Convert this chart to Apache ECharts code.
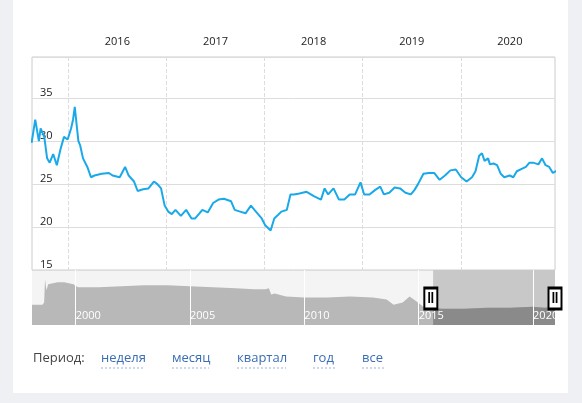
<!DOCTYPE html>
<html><head><meta charset="utf-8">
<script src="https://cdn.jsdelivr.net/npm/echarts@6/dist/echarts.min.js"></script>
<style>
html,body{margin:0;padding:0;background:#eef0f4;width:582px;height:403px;overflow:hidden}
#card{position:absolute;left:13px;top:0;width:555px;height:393px;background:#fff}
#c{position:absolute;left:0;top:0;width:582px;height:403px}
</style></head><body>
<div id="card"></div><div id="c"></div>
<script>
// main chart: time as fractional year, price values
const mainYears = [2015.626,2015.663,2015.700,2015.718,2015.755,2015.784,2015.810,2015.846,2015.883,2015.919,2015.956,2015.993,2016.029,2016.048,2016.066,2016.084,2016.103,2016.121,2016.150,2016.194,2016.231,2016.267,2016.341,2016.414,2016.451,2016.524,2016.579,2016.615,2016.670,2016.707,2016.762,2016.817,2016.872,2016.908,2016.945,2016.982,2017.018,2017.055,2017.092,2017.147,2017.201,2017.256,2017.293,2017.330,2017.366,2017.421,2017.476,2017.531,2017.586,2017.659,2017.696,2017.751,2017.806,2017.861,2017.897,2017.934,2017.971,2018.007,2018.062,2018.099,2018.136,2018.172,2018.227,2018.264,2018.300,2018.355,2018.429,2018.502,2018.575,2018.612,2018.648,2018.703,2018.758,2018.813,2018.868,2018.923,2018.978,2019.015,2019.070,2019.125,2019.179,2019.216,2019.271,2019.326,2019.381,2019.436,2019.491,2019.527,2019.564,2019.619,2019.674,2019.729,2019.784,2019.839,2019.894,2019.949,2020.004,2020.059,2020.114,2020.150,2020.187,2020.216,2020.242,2020.278,2020.297,2020.333,2020.370,2020.407,2020.443,2020.498,2020.535,2020.571,2020.626,2020.663,2020.700,2020.736,2020.791,2020.828,2020.864,2020.901,2020.938,2020.982];
const mainValues = [29.8,32.5,30,31.5,30.5,28,27.5,28.5,27.2,29,30.5,30.2,31.5,32.5,34,32,30,29.5,28,27,25.8,26,26.2,26.3,26,25.8,27,26,25.3,24.2,24.4,24.5,25.3,25,24.5,22.5,21.8,21.5,22,21.3,22,21,21,21.5,22,21.7,22.8,23.2,23.3,23,22,21.8,21.6,22.5,22,21.5,21,20.2,19.6,21,21.4,21.8,22,23.8,23.8,23.9,24.1,23.6,23.2,24.5,23.8,24.5,23.2,23.2,23.8,23.8,25.2,23.8,23.8,24.3,24.7,23.8,24,24.6,24.5,24,23.8,24.3,25,26.2,26.3,26.3,25.5,26,26.6,26.7,25.8,25.3,25.8,26.5,28.3,28.6,27.7,28,27.3,27.4,27.2,26.2,25.8,26,25.8,26.5,26.8,27,27.5,27.5,27.3,28,27.2,27,26.3,26.6];
const yearTicks = [2016,2017,2018,2019,2020];
const yearLabelPos = [2016.5,2017.5,2018.5,2019.5,2020.5];
// navigator: full history, relative height
const navYears = [1998.09,1998.55,1998.62,1998.66,1998.72,1998.8,1999.2,1999.5,1999.9,2000.1,2001,2002,2003,2004,2005,2006,2007,2007.8,2008.3,2008.45,2008.55,2008.7,2009.2,2010,2011,2012,2013,2013.6,2013.9,2014.3,2014.6,2014.85,2015.2,2015.63,2016,2017,2018,2019,2020,2020.5,2020.96];
const navValues = [20,20,22,45,34,40,42,42,40,37,37,38,39,39,38,37,36,35,35,36,30,31,28,27,27,28,27,25,20,22,28,24,18,17,16,16,17,17,18,17,18];
const navLabels = [2000,2005,2010,2015,2020];
const selStart = 2015.63, selEnd = 2020.96;
const periodLinks = ['неделя','месяц','квартал','год','все'];

const mainData = mainYears.map((y,i)=>[y,mainValues[i]]);
const navData = navYears.map((y,i)=>[y,navValues[i]]);
const navSel = navData.filter(d=>d[0]>=selStart);
const linkX = [101,172,237,313,362];
const graphics = [{type:'text',left:33,top:352,style:{text:'Период:',fill:'#444',font:'13px "Open Sans"'}}];
periodLinks.forEach((t,i)=>{
  graphics.push({type:'text',left:linkX[i],top:352,style:{text:t,fill:'#3a6db5',font:'13px "Open Sans"'}});
});
const chart = echarts.init(document.getElementById('c'));
chart.setOption({
  animation:false,
  grid:[{left:32,right:27,top:57,bottom:133,show:true,borderColor:'#ccc',borderWidth:1},
        {left:32,right:27,top:270,bottom:78,show:true,backgroundColor:'#f4f4f4',borderWidth:0}],
  xAxis:[
    {type:'value',gridIndex:0,min:selStart,max:selEnd,position:'top',
     axisLine:{show:false},axisTick:{show:false,customValues:yearTicks},
     splitLine:{show:true,lineStyle:{type:'dashed',color:'#ddd'}},
     axisLabel:{customValues:yearLabelPos,formatter:v=>String(Math.floor(v)),color:'#222',fontSize:11,fontFamily:'Open Sans',margin:10}},
    {type:'value',gridIndex:1,min:1998.09,max:2020.96,z:10,
     axisLine:{show:false},axisTick:{show:false,customValues:navLabels},
     splitLine:{show:false},
     axisLabel:{customValues:navLabels,formatter:v=>String(v),color:'#fff',fontSize:11,fontFamily:'Open Sans',align:'left',margin:-15}}
  ],
  yAxis:[
    {type:'value',gridIndex:0,min:15,max:39.8,interval:5,
     axisLine:{show:false},axisTick:{show:false},
     splitLine:{lineStyle:{color:'#ddd'}},
     axisLabel:{inside:true,verticalAlign:'bottom',color:'#222',fontSize:11,fontFamily:'Open Sans',margin:8,
       formatter:v=>v>=39?'':String(v)}},
    {type:'value',gridIndex:1,min:0,max:54,show:false}
  ],
  series:[
    {type:'line',xAxisIndex:0,yAxisIndex:0,data:mainData,symbol:'none',lineStyle:{color:'#1aa9e8',width:2},itemStyle:{color:'#1aa9e8'}},
    {type:'line',xAxisIndex:1,yAxisIndex:1,data:navData,symbol:'none',lineStyle:{width:0},areaStyle:{color:'#b8b8b8',opacity:1},
     markArea:{silent:true,itemStyle:{color:'#c8c8c8'},data:[[{xAxis:selStart},{xAxis:selEnd}]]}},
    {type:'line',xAxisIndex:1,yAxisIndex:1,data:navSel,symbol:'none',lineStyle:{width:0},areaStyle:{color:'#8a8a8a',opacity:1},z:3,
     markLine:{silent:true,symbol:'none',label:{show:false},lineStyle:{color:'#fff',type:'solid',width:1},
       data:navLabels.map(v=>({xAxis:v}))},
     markPoint:{symbol:'rect',symbolSize:[13,21],itemStyle:{color:'#fff',borderColor:'#000',borderWidth:2.5},
       label:{show:true,formatter:'‖',color:'#000',fontSize:15,fontWeight:'bold'},
       data:[{coord:[selStart-0.1,26]},{coord:[selEnd,26]}]}}
  ],
  graphic:graphics.concat(linkX.map((x,i)=>({type:'line',shape:{x1:x,y1:368,x2:x+[43,37,49,22,22][i],y2:368},style:{stroke:'#9bb4d8',lineDash:[2,2],lineWidth:1}})))
});
</script></body></html>
